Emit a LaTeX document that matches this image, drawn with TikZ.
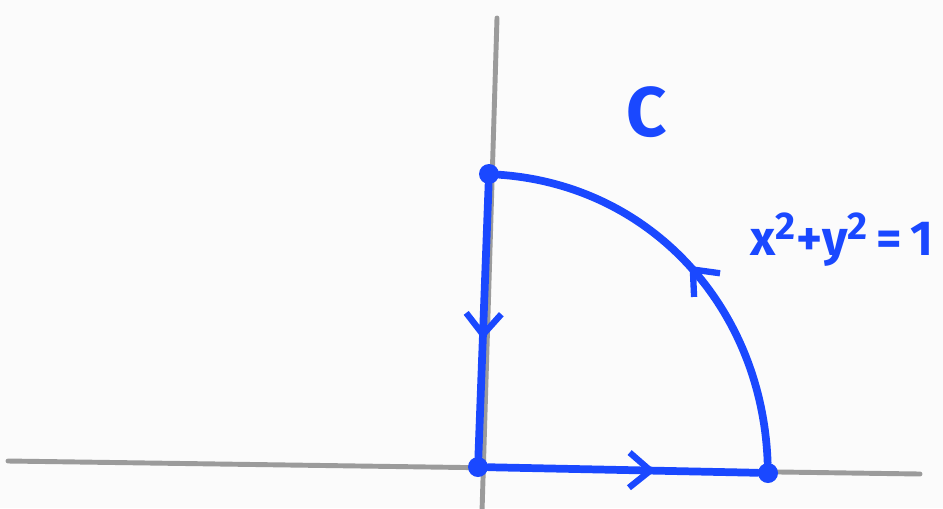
\documentclass[tikz,border=0pt]{standalone}
\usepackage{fontspec}
\setmainfont{Fira Sans}
\usepackage{xcolor}
\usetikzlibrary{arrows.meta, decorations.markings}

\definecolor{penblue}{RGB}{26,72,255}
\definecolor{axisgray}{RGB}{155,155,155}
\definecolor{paper}{RGB}{251,251,251}

\begin{document}
\begin{tikzpicture}[x=0.02cm, y=-0.02cm,
    axis/.style={axisgray, line width=2.8pt, line cap=round},
    curve/.style={penblue, line width=4.4pt, line cap=round},
    dot/.style={circle, fill=penblue, inner sep=0pt, minimum size=0.40cm},
    midarrow/.style={postaction={decorate, decoration={markings,
        mark=at position #1 with {\arrow[penblue, line width=3.6pt, line cap=round]{Straight Barb[length=12pt, width=20pt]}}}}},
    hand/.style={penblue, font=\fontsize{28}{32}\selectfont\bfseries}]
    \fill[paper] (0,0) rectangle (943,508);
    \useasboundingbox (0,0) rectangle (943,508);
    % axes
    \coordinate (xl) at (8,461);
    \coordinate (xr) at (920,474);
    \coordinate (yt) at (497,18);
    \coordinate (yb) at (482,512);
    \draw[axis] (xl) -- (xr);
    \draw[axis] (yt) -- (yb);
    % corners of the path
    \node[dot] (top) at (489,174) {};
    \node[dot] (o) at (478,467) {};
    \node[dot] (r) at (768,473) {};
    % the closed curve C
    \draw[curve, midarrow=0.57] (top) -- (o);
    \draw[curve, midarrow=0.62] (o) -- (r);
    \draw[curve, midarrow=0.5] (r) to[out=92, in=-4] (top);
    % labels
    \node[hand, font=\fontsize{40}{44}\selectfont\bfseries] (lblc) at (647,112) {C};
    \node[hand, anchor=base west, inner sep=0pt] (lbleq) at (750,255)
        {x\textsuperscript{\fontsize{22}{22}\selectfont 2}+y\textsuperscript{\fontsize{22}{22}\selectfont 2}\,=\,1};
\end{tikzpicture}
\end{document}
